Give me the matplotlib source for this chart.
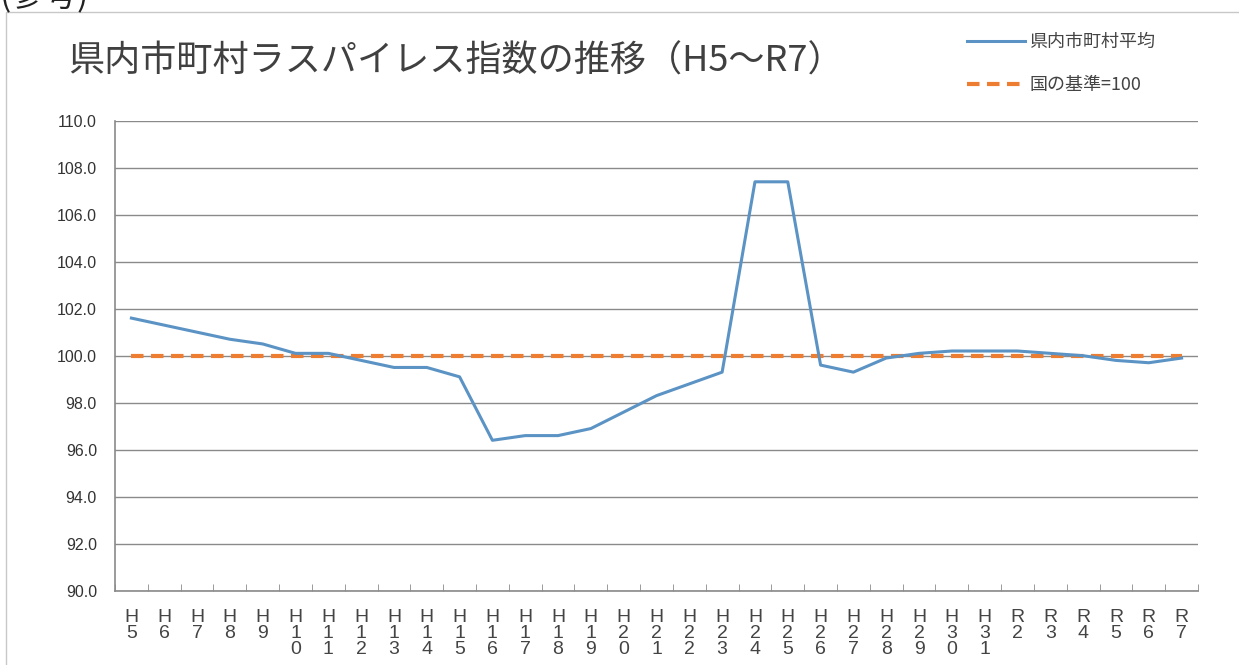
import matplotlib
matplotlib.use("Agg")
import matplotlib.pyplot as plt
from matplotlib.patches import Rectangle
import numpy as np

plt.rcParams['font.family'] = ['Noto Sans CJK JP', 'DejaVu Sans']

# data
years = ['H5', 'H6', 'H7', 'H8', 'H9', 'H10', 'H11', 'H12', 'H13', 'H14', 'H15',
         'H16', 'H17', 'H18', 'H19', 'H20', 'H21', 'H22', 'H23', 'H24', 'H25',
         'H26', 'H27', 'H28', 'H29', 'H30', 'H31', 'R2', 'R3', 'R4', 'R5', 'R6', 'R7']
avg = [101.6, 101.3, 101.0, 100.7, 100.5, 100.1, 100.1, 99.8, 99.5, 99.5, 99.1,
       96.4, 96.6, 96.6, 96.9, 97.6, 98.3, 98.8, 99.3, 107.4, 107.4,
       99.6, 99.3, 99.9, 100.1, 100.2, 100.2, 100.2, 100.1, 100.0, 99.8, 99.7, 99.9]
base = [100.0] * len(years)
yticks = np.arange(90, 110.1, 2)

fig = plt.figure(figsize=(12.39, 6.65), dpi=100)
ax = fig.add_axes([115/1239, 1 - 590.7/665, (1198-115)/1239, (590.7-120.7)/665])

x = np.arange(len(years))
ax.plot(x, avg, color='#5b93c5', lw=2.2, label='県内市町村平均', zorder=3)
ax.plot(x, base, color='#ed7d31', lw=3, ls=(0, (3, 1.8)), label='国の基準=100', zorder=2)

ax.set_xlim(-0.5, len(years) - 0.5)
ax.set_ylim(90, 110)
ax.set_yticks(yticks)
ax.set_yticklabels([f'{v:.1f}' for v in yticks], family='Liberation Sans', fontsize=11.5, color='#333333')
ax.yaxis.grid(True, color='#8a8a8a', lw=1)
ax.tick_params(axis='y', length=0, pad=13)

ax.set_xticks(x)
ax.set_xticklabels(['\n'.join(s) for s in years], family='Liberation Sans', fontsize=14,
                   color='#444444', linespacing=0.95, va='top')
ax.set_xticks(np.arange(-0.5, len(years)), minor=True)
ax.tick_params(axis='x', which='major', length=0, pad=13)
ax.tick_params(axis='x', which='minor', length=5, direction='in', color='#8a8a8a')

for s in ['top', 'right']:
    ax.spines[s].set_visible(False)
for s in ['left', 'bottom']:
    ax.spines[s].set_color('#8a8a8a')
    ax.spines[s].set_linewidth(1.2)
ax.set_axisbelow(True)

fig.text(68/1239, 1 - 62/665, '県内市町村ラスパイレス指数の推移（H5～R7）', fontsize=26,
         color='#404040', va='center', ha='left')
fig.text(0.0, 1 - 6/665, '(参考)', fontsize=24, color='#222222', va='baseline', ha='left')

ax.legend(loc='upper left', bbox_to_anchor=(967/1239, 1 - 33/665), bbox_transform=fig.transFigure,
          frameon=False, fontsize=13, handlelength=3.2, handletextpad=0.25, borderpad=0,
          borderaxespad=0, labelspacing=1.4, labelcolor='#444444')

fig.add_artist(Rectangle((6/1239, -0.01), 1.0, 1 - 11.7/665 + 0.01, transform=fig.transFigure,
                         fill=False, ec='#c8c8c8', lw=1))

fig.savefig('out.png', dpi=100)
